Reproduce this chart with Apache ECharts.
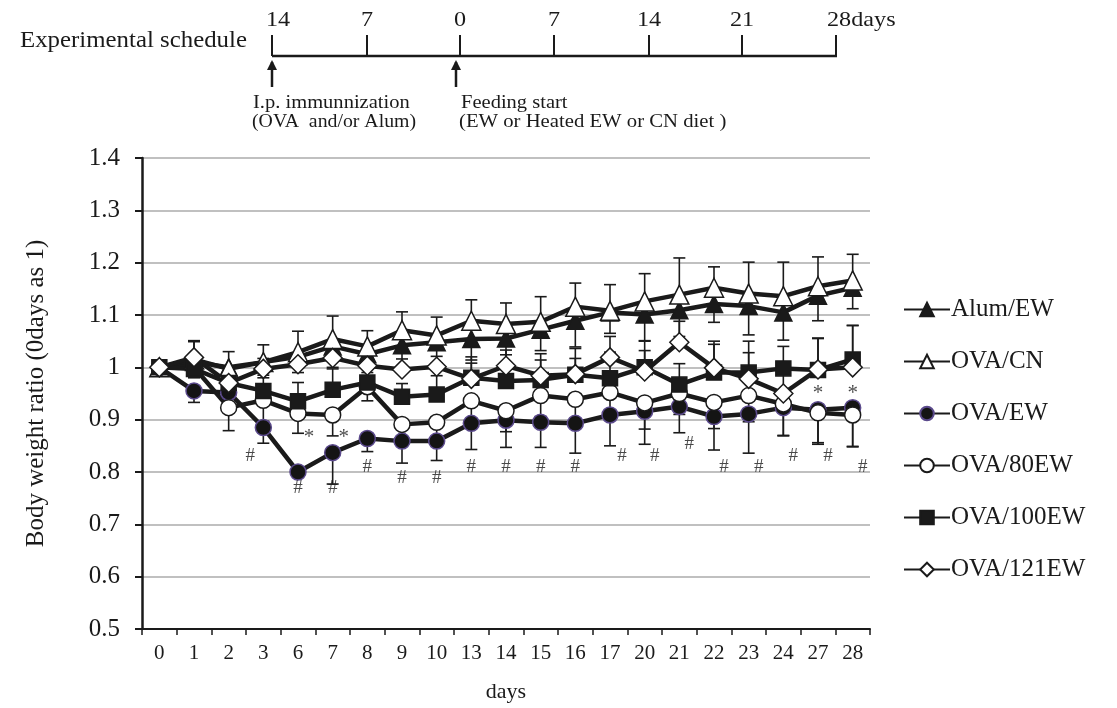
<!DOCTYPE html>
<html><head><meta charset="utf-8">
<script src="https://cdn.jsdelivr.net/npm/echarts@6/dist/echarts.min.js"></script>
<style>html,body{margin:0;padding:0;background:#fff}#c{width:1117px;height:708px}</style>
</head><body><div id="c"></div>
<script>
var categories = ['0','1','2','3','6','7','8','9','10','13','14','15','16','17','20','21','22','23','24','27','28'];
var yTicks = [0.5,0.6,0.7,0.8,0.9,1.0,1.1,1.2,1.3,1.4];

var alumEW  = [1.0,1.01,1.0,1.01,1.02,1.04,1.025,1.042,1.048,1.054,1.055,1.072,1.089,1.105,1.101,1.109,1.121,1.117,1.105,1.137,1.152];
var ovaCN   = [1.0,1.015,0.997,1.01,1.029,1.054,1.04,1.071,1.061,1.089,1.083,1.087,1.116,1.108,1.126,1.139,1.152,1.141,1.136,1.155,1.166];
var ovaEW   = [1.0,0.955,0.952,0.885,0.80,0.837,0.864,0.859,0.859,0.893,0.899,0.895,0.893,0.909,0.916,0.925,0.906,0.911,0.923,0.919,0.923];
var ova80EW = [1.0,1.0,0.923,0.937,0.912,0.909,0.963,0.891,0.895,0.936,0.917,0.946,0.939,0.952,0.932,0.95,0.933,0.946,0.93,0.913,0.909];
var ova100EW= [1.0,0.997,0.97,0.955,0.935,0.957,0.971,0.944,0.948,0.98,0.974,0.976,0.986,0.979,1.0,0.967,0.99,0.99,0.998,0.995,1.015];
var ova121EW= [1.0,1.019,0.97,0.997,1.006,1.018,1.003,0.996,1.001,0.978,1.003,0.984,0.987,1.019,0.992,1.048,0.999,0.978,0.95,0.996,1.0];

// error bar lengths (one-sided, as drawn)
var alumEWErr   = [0,0.02,0.025,0.03,0.03,0.04,0.035,0.04,0.04,0.04,0.045,0.04,0.05,0.04,0.05,0.05,0.035,0.055,0.053,0.048,0.04];
var ovaCNErr    = [0,0.036,0.033,0.033,0.04,0.044,0.03,0.035,0.035,0.04,0.04,0.048,0.045,0.05,0.053,0.07,0.04,0.06,0.065,0.056,0.05];
var ovaEWErr    = [0,0.022,0.02,0.03,0.01,0.06,0.025,0.042,0.037,0.05,0.052,0.048,0.057,0.059,0.063,0.05,0.064,0.075,0.054,0.066,0.075];
var ova80EWErr  = [0,0.02,0.044,0.04,0.038,0.04,0.027,0.03,0.03,0.04,0.04,0.04,0.04,0.05,0.05,0.04,0.05,0.05,0.06,0.057,0.06];
var ova100EWErr = [0,0.02,0.03,0.03,0.036,0.04,0.03,0.025,0.036,0.04,0.05,0.05,0.05,0.05,0.05,0.04,0.06,0.06,0.042,0.06,0.065];
var ova121EWErr = [0,0.03,0.02,0.02,0.02,0.02,0.02,0.02,0.02,0.03,0.03,0.03,0.03,0.04,0.04,0.04,0.045,0.05,0.06,0.06,0.08];

// significance marks: [category index, y value]
var hashMarks = [[3,0.831],[4,0.77],[5,0.77],[6,0.81],[7,0.789],[8,0.789],[9,0.81],[10,0.81],[11,0.81],[12,0.81],
                 [13,0.831],[14,0.831],[15,0.854],[16,0.81],[17,0.81],[18,0.831],[19,0.831],[20,0.81]];
var hashShift = [-13,0,0,0,0,0,0,0,0,0,12,10,10,10,10,10,10,10];
var starMarks = [[4,0.873],[5,0.873],[19,0.957],[20,0.957]];
var starShift = [11,11,0,0];

var scheduleTicks = ['14','7','0','7','14','21','28days'];

var FONT = '"Liberation Serif", "DejaVu Serif", serif';
var INK = '#1a1a1a';

function errSeries(name, vals, errs, dir) {
  var data = vals.map(function (v, i) { return [i, v, errs[i], dir]; });
  return {
    type: 'custom', name: name + ' err', z: 1, silent: true,
    data: data,
    renderItem: function (params, api) {
      var x = api.value(0), y = api.value(1), e = api.value(2), d = api.value(3);
      if (!e) return null;
      var p0 = api.coord([x, y]);
      var p1 = api.coord([x, y + d * e]);
      var w = 6;
      return {
        type: 'group',
        children: [
          { type: 'line', shape: { x1: p0[0], y1: p0[1], x2: p1[0], y2: p1[1] }, style: { stroke: INK, lineWidth: 1.6 } },
          { type: 'line', shape: { x1: p1[0] - w, y1: p1[1], x2: p1[0] + w, y2: p1[1] }, style: { stroke: INK, lineWidth: 1.6 } }
        ]
      };
    }
  };
}

function lineSeries(name, vals, symbol, size, fill, border) {
  return {
    type: 'line', name: name, data: vals, symbol: symbol, symbolSize: size,
    showAllSymbol: true, z: 3,
    lineStyle: { color: INK, width: 4.5 },
    itemStyle: { color: fill, borderColor: border, borderWidth: 1.5 }
  };
}

function markSeries(marks, shifts, text, size, dy) {
  return {
    type: 'scatter', z: 5, silent: true, symbolSize: 1,
    itemStyle: { color: 'rgba(0,0,0,0)' },
    data: marks.map(function (m, i) {
      return { value: m, label: { offset: [shifts[i], dy] } };
    }),
    label: { show: true, position: 'inside', formatter: text, fontFamily: FONT, fontSize: size, color: INK }
  };
}

function stext(x, y, txt, size, sx, align) {
  return { type: 'text', x: x, y: y, scaleX: sx,
    style: { text: txt, font: size + 'px ' + FONT, fill: INK, textAlign: align || 'left' } };
}

var sx = [272, 367, 460, 554, 649, 742, 836];
var graphics = [
  stext(20, 29, 'Experimental schedule', 23, 1.08),
  { type: 'line', shape: { x1: 272, y1: 56, x2: 837, y2: 56 }, style: { stroke: INK, lineWidth: 2.5 } }
];
sx.forEach(function (x, i) {
  graphics.push({ type: 'line', shape: { x1: x, y1: 35, x2: x, y2: 56 }, style: { stroke: INK, lineWidth: 2 } });
  var last = i === sx.length - 1;
  graphics.push(stext(i === 0 ? x - 6 : (last ? x - 9 : x), 9, scheduleTicks[i], 22, 1.1,
    (i === 0 || last) ? 'left' : 'center'));
});
[272, 456].forEach(function (x) {
  graphics.push({ type: 'line', shape: { x1: x, y1: 87, x2: x, y2: 62 }, style: { stroke: INK, lineWidth: 2.5 } });
  graphics.push({ type: 'polygon', shape: { points: [[x - 5, 70], [x, 60], [x + 5, 70]] }, style: { fill: INK } });
});
graphics.push(stext(253, 94, 'I.p. immunnization', 18, 1.14));
graphics.push(stext(252, 113, '(OVA  and/or Alum)', 18, 1.1));
graphics.push(stext(461, 94, 'Feeding start', 18, 1.14));
graphics.push(stext(459, 113, '(EW or Heated EW or CN diet )', 18, 1.15));

var chart = echarts.init(document.getElementById('c'), null, { renderer: 'canvas' });
chart.setOption({
  animation: false,
  backgroundColor: '#fff',
  graphic: graphics,
  grid: { left: 142, right: 247, top: 158, bottom: 78, containLabel: false },
  legend: {
    orient: 'vertical', left: 898, top: 292, itemGap: 27, itemWidth: 46, itemHeight: 17,
    data: ['Alum/EW','OVA/CN','OVA/EW','OVA/80EW','OVA/100EW','OVA/121EW'],
    textStyle: { fontFamily: FONT, fontSize: 25, color: INK, padding: [0,0,0,-4] }
  },
  xAxis: {
    type: 'category', data: categories, boundaryGap: true,
    name: 'days', nameLocation: 'middle', nameGap: 52,
    nameTextStyle: { fontFamily: FONT, fontSize: 22, color: INK },
    axisLine: { lineStyle: { color: INK, width: 2 } },
    axisTick: { show: true, alignWithLabel: false, length: 6, lineStyle: { color: INK, width: 1.5 } },
    axisLabel: { fontFamily: FONT, fontSize: 21, color: INK, margin: 14, interval: 0 },
    splitLine: { show: false }
  },
  yAxis: {
    type: 'value', min: yTicks[0], max: yTicks[yTicks.length - 1], interval: 0.1,
    name: 'Body weight ratio (0days as 1)', nameLocation: 'middle', nameGap: 93, nameRotate: 90,
    nameTextStyle: { fontFamily: FONT, fontSize: 25, color: INK },
    axisLine: { show: true, lineStyle: { color: INK, width: 2.5 } },
    axisTick: { show: true, length: 7, lineStyle: { color: INK, width: 2 } },
    axisLabel: { fontFamily: FONT, fontSize: 25, color: INK, margin: 22,
      formatter: function (v) { return String(Math.round(v * 10) / 10); } },
    splitLine: { show: true, lineStyle: { color: '#ababab', width: 1.5 } }
  },
  series: [
    errSeries('Alum/EW', alumEW, alumEWErr, -1),
    errSeries('OVA/CN', ovaCN, ovaCNErr, 1),
    errSeries('OVA/EW', ovaEW, ovaEWErr, -1),
    errSeries('OVA/80EW', ova80EW, ova80EWErr, -1),
    errSeries('OVA/100EW', ova100EW, ova100EWErr, 1),
    errSeries('OVA/121EW', ova121EW, ova121EWErr, 1),
    lineSeries('Alum/EW', alumEW, 'triangle', 17, INK, INK),
    lineSeries('OVA/CN', ovaCN, 'triangle', 19, '#fff', INK),
    lineSeries('OVA/EW', ovaEW, 'circle', 16, '#141414', '#5b4a8c'),
    lineSeries('OVA/80EW', ova80EW, 'circle', 16, '#fff', INK),
    lineSeries('OVA/100EW', ova100EW, 'rect', 15, INK, INK),
    lineSeries('OVA/121EW', ova121EW, 'diamond', 19, '#fff', INK),
    markSeries(hashMarks, hashShift, '#', 19, 0),
    markSeries(starMarks, starShift, '*', 21, 4)
  ]
});
</script>
</body></html>
